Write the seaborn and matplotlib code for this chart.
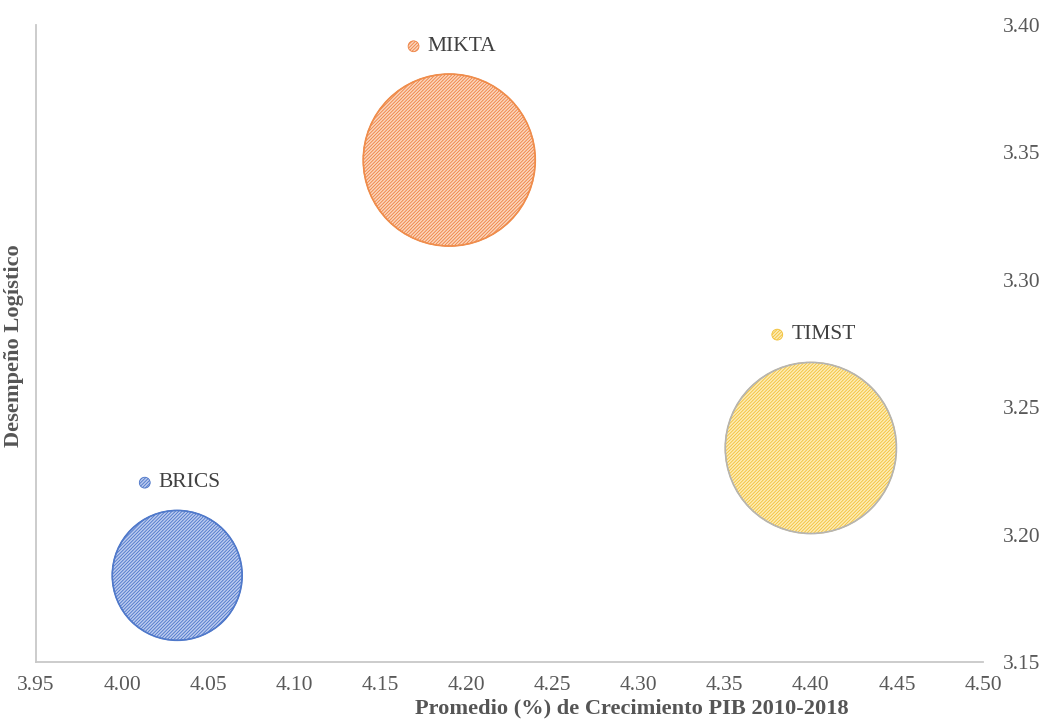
import matplotlib
matplotlib.use("Agg")
import matplotlib.pyplot as plt
import seaborn as sns
import pandas as pd
import numpy as np
from matplotlib.offsetbox import AnnotationBbox, HPacker, DrawingArea, TextArea
from matplotlib.patches import Circle

# ---- data ----
grupos = ["BRICS", "MIKTA", "TIMST"]
crecimiento_pib = [4.032, 4.190, 4.400]      # x
desempeno_logistico = [3.184, 3.347, 3.234]  # y
tamano = [0.57, 1.00, 0.99]                  # bubble size (area)
x_ticks = [3.95, 4.00, 4.05, 4.10, 4.15, 4.20, 4.25, 4.30, 4.35, 4.40, 4.45, 4.50]
y_ticks = [3.15, 3.20, 3.25, 3.30, 3.35, 3.40]

df = pd.DataFrame({"grupo": grupos, "x": crecimiento_pib,
                   "y": desempeno_logistico, "tam": tamano})

# ---- style ----
sns.set_theme(style="white")
plt.rcParams["font.family"] = ["Liberation Serif", "DejaVu Serif"]
plt.rcParams["hatch.linewidth"] = 0.6

fill = {"BRICS": "#bccbef", "MIKTA": "#fbd6bd", "TIMST": "#fdecb6"}
stripe = {"BRICS": "#4a74c8", "MIKTA": "#ee8040", "TIMST": "#f2c036"}
outline = {"BRICS": "#5079ca", "MIKTA": "#ef8d4c", "TIMST": "#b4b4b4"}
HATCH = "/" * 10
S_MAX = 15335.0  # pt^2 for size 1.0
FS = 15.5
FS_LAB = 16.1

fig = plt.figure(figsize=(10.47, 7.25), dpi=100)
ax = fig.add_axes([0.0344, 0.0869, 0.9045, 0.8786])

for g in grupos:
    sub = df[df["grupo"] == g]
    sns.scatterplot(data=sub, x="x", y="y", size="tam", sizes=(0, S_MAX),
                    size_norm=(0, 1.0), color=fill[g], edgecolor=stripe[g],
                    linewidth=0.8, hatch=HATCH, legend=False, ax=ax, zorder=2)
    sns.scatterplot(data=sub, x="x", y="y", size="tam", sizes=(0, S_MAX),
                    size_norm=(0, 1.0), facecolor="none", edgecolor=outline[g],
                    linewidth=1.2, legend=False, ax=ax, zorder=3)

# labels with small keys above bubbles
for g, xv, yv, t in zip(grupos, crecimiento_pib, desempeno_logistico, tamano):
    r_pt = np.sqrt(S_MAX * t) / 2.0
    da = DrawingArea(8, 8, 0, 0)
    c = Circle((4, 4), 3.9, facecolor=fill[g], edgecolor=stripe[g],
               hatch=HATCH, linewidth=0.6)
    da.add_artist(c)
    ta = TextArea(g, textprops=dict(fontsize=FS, color="#404040",
                                    family=["Liberation Serif"]))
    box = HPacker(children=[da, ta], align="center", pad=0, sep=6)
    ab = AnnotationBbox(box, (xv, yv), xybox=(2, r_pt + 20),
                        xycoords="data", boxcoords="offset points",
                        frameon=False, box_alignment=(0.5, 0.5))
    ax.add_artist(ab)

ax.set_xlim(3.95, 4.50)
ax.set_ylim(3.15, 3.40)
ax.set_xticks(x_ticks)
ax.set_xticklabels([f"{v:.2f}" for v in x_ticks])
ax.set_yticks(y_ticks)
ax.set_yticklabels([f"{v:.2f}" for v in y_ticks])
ax.yaxis.tick_right()
ax.tick_params(axis="x", length=0, pad=10, labelsize=FS, labelcolor="#595959")
ax.tick_params(axis="y", length=0, pad=14, labelsize=FS, labelcolor="#595959")

for s in ["top", "right"]:
    ax.spines[s].set_visible(False)
for s in ["left", "bottom"]:
    ax.spines[s].set_color("#c8c8c8")
    ax.spines[s].set_linewidth(1.3)

ax.set_xlabel("Promedio (%) de Crecimiento PIB 2010-2018", fontsize=FS_LAB,
              fontweight="bold", color="#555555")
ax.set_ylabel("Desempeño Logístico", fontsize=FS_LAB, fontweight="bold",
              color="#555555")
ax.yaxis.set_label_position("left")
ax.xaxis.set_label_coords(0.629, -0.058)
ax.yaxis.set_label_coords(-0.013, 0.496)

fig.savefig("out.png", dpi=100)
